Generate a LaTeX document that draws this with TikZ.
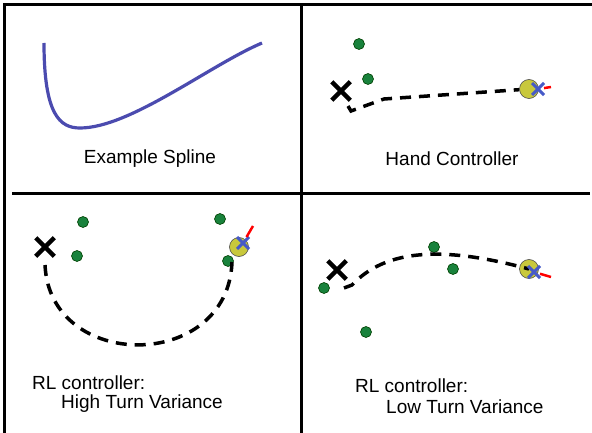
\documentclass[tikz,border=0pt]{standalone}
\usepackage{fontspec}
\setmainfont{Liberation Sans}
\definecolor{spline-blue}{RGB}{75,75,175}
\definecolor{dot-green}{RGB}{25,130,60}
\definecolor{goal-yellow}{RGB}{200,200,60}
\definecolor{aim-blue}{RGB}{70,90,200}
\usetikzlibrary{shapes.misc}

\begin{document}
\begin{tikzpicture}
[
  x=1pt,y=-1pt,
  rule/.style={line width=3pt},
  dot/.style={circle,fill=dot-green,draw=black!75!green,semithick,minimum size=11pt,inner sep=0pt},
  goal/.style={circle,fill=goal-yellow,draw=black!70,semithick,minimum size=19pt,inner sep=0pt},
  startx/.style={cross out,draw=black,line width=4.5pt,minimum size=14pt,inner sep=0pt},
  aim/.style={cross out,draw=aim-blue,line width=3pt,minimum size=9pt,inner sep=0pt},
  facing/.style={line width=2.5pt,red},
  route/.style={line width=3.5pt,dash pattern=on 11pt off 8pt},
  caption/.style={font=\fontsize{19}{23}\selectfont,inner sep=0pt},
]
\useasboundingbox (0,0) rectangle (592,433);
\draw[rule] (3,5) -- (592,5);
\draw[rule] (4,5) -- (4,433);
\draw[rule] (301,5) -- (301,433);
\draw[rule] (12,194) -- (590,194);

\draw[line width=3.2pt,spline-blue] (44,43) .. controls (44,115) and (60,128) .. (80,128)
  .. controls (130,128) and (210,65) .. (262,43);
\node[caption,anchor=base] (spline) at (150,164) {Example Spline};

\node[dot] (d21) at (359,44) {};
\node[dot] (d22) at (368,79) {};
\node[startx] (s2) at (341,91) {};
\node[goal] (g2) at (529,89) {};
\coordinate (p2) at (348,106);
\draw[route] (p2) -- (351,111) -- (384,99) -- (g2);
\node[aim] (a2) at (538,89) {};
\coordinate (h2) at (551,87);
\draw[facing] (a2) -- (h2);
\node[caption,anchor=base] (hand) at (452,166) {Hand Controller};

\node[dot] (d31) at (83,222) {};
\node[dot] (d32) at (77,256) {};
\node[dot] (d33) at (220,219) {};
\node[dot] (d34) at (228,261) {};
\node[startx] (s3) at (45,247) {};
\node[goal] (g3) at (239,247) {};
\coordinate (p3) at (45,265);
\coordinate (q3) at (232,262);
\draw[route] (p3) .. controls (50,372) and (228,372) .. (q3);
\node[aim] (a3) at (243,243) {};
\coordinate (h3) at (253,226);
\draw[facing] (a3) -- (h3);
\node[caption,anchor=base west] (rl3) at (32,389) {RL controller:};
\node[caption,anchor=base west] (var3) at (61,408) {High Turn Variance};

\node[dot] (d41) at (434,247) {};
\node[dot] (d42) at (453,269) {};
\node[dot] (d43) at (324,288) {};
\node[dot] (d44) at (366,332) {};
\node[startx] (s4) at (337,270) {};
\node[goal] (g4) at (529,269) {};
\coordinate (p4) at (344,288);
\draw[route] (p4) -- (352,285) .. controls (385,250) and (440,245) .. (g4.center);
\node[aim] (a4) at (534,272) {};
\coordinate (h4) at (551,277);
\draw[facing] (a4) -- (h4);
\node[caption,anchor=base west] (rl4) at (355,392) {RL controller:};
\node[caption,anchor=base west] (var4) at (386,413) {Low Turn Variance};
\end{tikzpicture}
\end{document}
